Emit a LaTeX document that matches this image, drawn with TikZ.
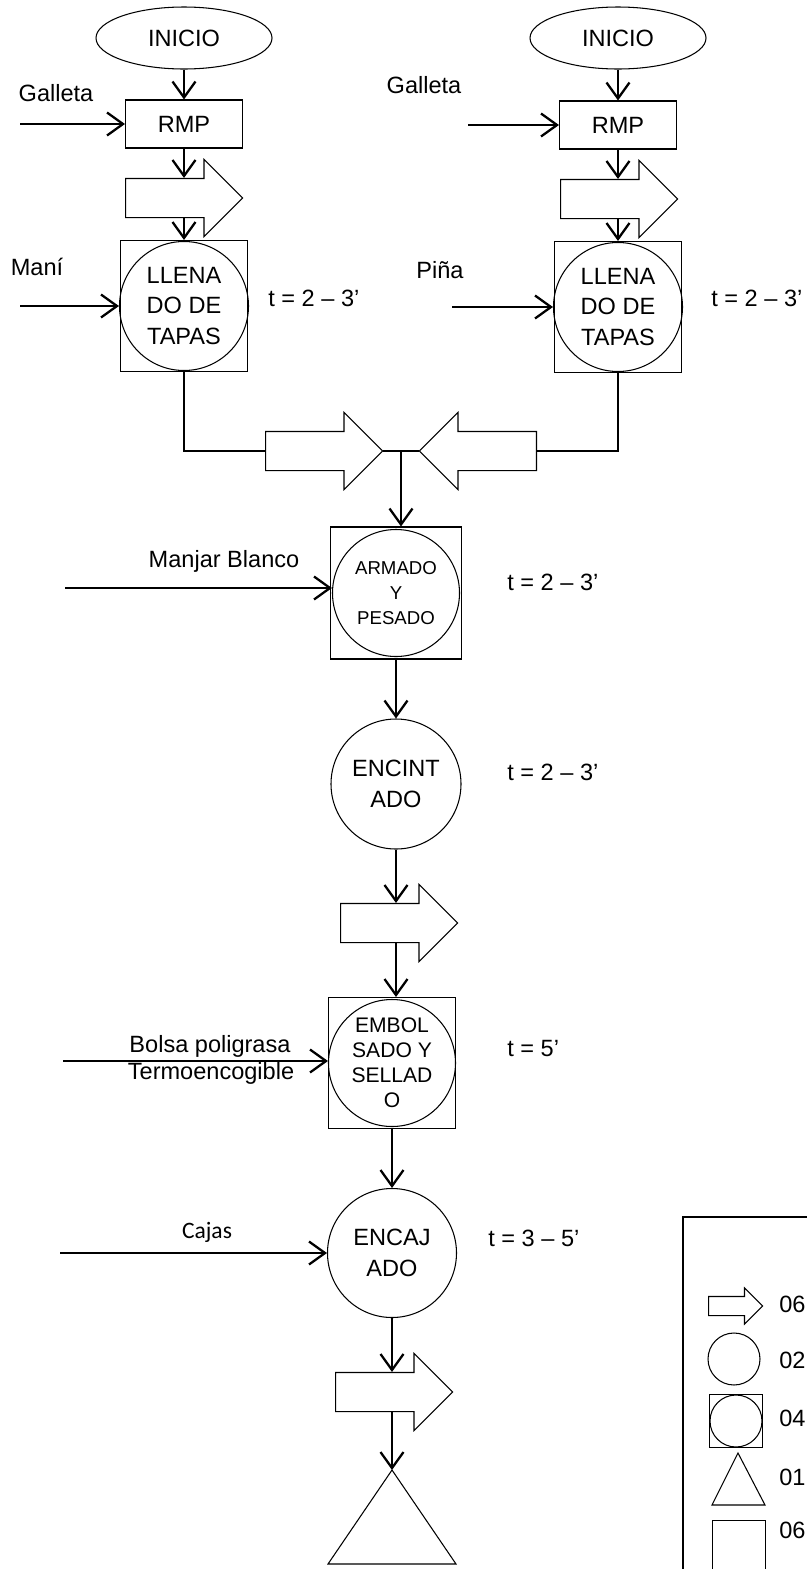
\documentclass[tikz,border=0pt]{standalone}
\usepackage{fontspec}
\setmainfont{Liberation Sans}
\newfontfamily\calibrifont{Carlito}
\usetikzlibrary{arrows.meta,shapes.geometric,shapes.arrows,calc}

\tikzset{
  lin/.style={line width=0.6pt},
  flow/.style={line width=1.3pt, -{Straight Barb[length=3.2mm,width=4.6mm]}},
  ini/.style={draw, lin, ellipse, minimum width=3.52cm, minimum height=1.24cm},
  rmp/.style={draw, lin, rectangle, minimum width=2.34cm, minimum height=0.96cm},
  sqbox/.style={draw, lin, rectangle, minimum width=2.54cm, minimum height=2.62cm},
  proc/.style={draw, lin, circle, minimum size=2.58cm, inner sep=0pt, align=center},
  flecha/.style={draw, lin, single arrow, anchor=tail, minimum height=2.34cm,
    inner xsep=0pt, inner ysep=3.8mm, single arrow head extend=3.8mm},
  lbl/.style={anchor=west, inner sep=0pt},
}

\begin{document}
\begin{tikzpicture}[x=0.2mm, y=-0.2mm, every node/.style={font=\fontsize{13.4}{17.6}\selectfont}]
	\useasboundingbox (0,0) rectangle (806,1569);

	% rama izquierda (galleta + mani)
	\node[ini] (iniL) at (184,38) {INICIO};
	\node[rmp] (rmpL) at (184,124) {RMP};
	\node[flecha] (trL) at (125,198) {};
	\node[sqbox] (llL) at (184,306) {};
	\node[proc] (llLc) at (llL) {LLENA\\DO DE\\TAPAS};
	\node (galL) at (56,93) {Galleta};
	\node (mani) at (37,267) {Maní};
	\node[lbl] (tL) at (268,298) {t = 2 – 3’};
	\coordinate (inGL) at (20,124);
	\coordinate (inM) at (20,306);
	\draw[flow] (iniL.south) -- (rmpL.north);
	\draw[flow] (rmpL.south) -- (rmpL.south |- trL.north);
	\draw[flow] (rmpL.south |- trL.south) -- (llL.north);
	\draw[flow] (inGL) -- (rmpL.west);
	\draw[flow] (inM) -- (llLc.west);

	% rama derecha (galleta + pina)
	\node[ini] (iniR) at (618,38) {INICIO};
	\node[rmp] (rmpR) at (618,125) {RMP};
	\node[flecha] (trR) at (560,199) {};
	\node[sqbox] (llR) at (618,307) {};
	\node[proc] (llRc) at (llR) {LLENA\\DO DE\\TAPAS};
	\node (galR) at (424,85) {Galleta};
	\node (pina) at (440,270) {Piña};
	\node[lbl] (tR) at (711,298) {t = 2 – 3’};
	\coordinate (inGR) at (468,125);
	\coordinate (inP) at (452,307);
	\draw[flow] (iniR.south) -- (rmpR.north);
	\draw[flow] (rmpR.south) -- (rmpR.south |- trR.north);
	\draw[flow] (rmpR.south |- trR.south) -- (llR.north);
	\draw[flow] (inGR) -- (rmpR.west);
	\draw[flow] (inP) -- (llRc.west);

	% union de ambas tapas
	\node[flecha] (trM1) at (265,451) {};
	\node[flecha, shape border rotate=180] (trM2) at (537,451) {};
	\draw[lin] (llL.south) |- (trM1.tail);
	\draw[lin] (llR.south) |- (trM2.tail);
	\draw[lin] (trM1.tip) -- (trM2.tip);
	\coordinate (jn) at ($(trM1.tip)!0.5!(trM2.tip)$);

	% armado
	\node[sqbox, minimum width=2.62cm, minimum height=2.64cm] (arm) at (396,593) {};
	\node[proc, minimum size=2.54cm, font=\fontsize{10.6}{14.2}\selectfont] (armc) at (arm) {ARMADO\\Y\\PESADO};
	\node (mbt) at (224,561) {Manjar Blanco};
	\node[lbl] (tA) at (507,582) {t = 2 – 3’};
	\coordinate (inMB) at (65,588);
	\draw[flow] (jn) -- (jn |- arm.north);
	\draw[flow] (inMB) -- (inMB -| armc.west);

	% encintado
	\node[proc, minimum size=2.6cm] (enc) at (396,784) {ENCINT\\ADO};
	\node[lbl] (tE) at (507,772) {t = 2 – 3’};
	\node[flecha] (tr5) at (340,923) {};
	\draw[flow] (arm.south) -- (enc.north);
	\draw[flow] (enc.south) -- (enc.south |- tr5.north);

	% embolsado
	\node[sqbox] (emb) at (392,1063) {};
	\node[proc, minimum size=2.54cm, font=\fontsize{12}{14.2}\selectfont] (embc) at (emb) {EMBOL\\SADO Y\\SELLAD\\O};
	\node (bolsa) at (210,1046) {Bolsa poligrasa};
	\node (termo) at (211,1073) {Termoencogible};
	\node[lbl] (tB) at (507,1049) {t = 5’};
	\coordinate (inB) at (63,1061);
	\draw[flow] (enc.south |- tr5.south) -- (enc.south |- emb.north);
	\draw[flow] (inB) -- (inB -| embc.west);

	% encajado
	\node[proc, minimum size=2.58cm] (caj) at (392,1253) {ENCAJ\\ADO};
	\node (cajas) at (207,1232) {\calibrifont Cajas};
	\node[lbl] (tC) at (488,1238) {t = 3 – 5’};
	\coordinate (inC) at (60,1253);
	\draw[flow] (emb.south) -- (caj.north);
	\draw[flow] (inC) -- (caj.west);

	% transporte y almacen
	\node[flecha] (tr6) at (335,1392) {};
	\coordinate (alm) at (392,1470);
	\draw[lin] (alm) -- ++(64,94) -- ++(-128,0) -- cycle;
	\draw[flow] (caj.south) -- (caj.south |- tr6.north);
	\draw[flow] (caj.south |- tr6.south) -- (alm);

	% leyenda
	\draw[lin] (683,1217) rectangle (880,1640);
	\node[flecha, minimum height=1.08cm, inner ysep=1.8mm, single arrow head extend=1.7mm] (lgA) at (708,1306) {};
	\node[lbl] at (779,1304) {06};
	\node[draw, lin, circle, minimum size=1.04cm, inner sep=0pt] (lgB) at (734,1359) {};
	\node[lbl] at (779,1360) {02};
	\node[draw, lin, minimum size=1.06cm, inner sep=0pt] (lgC) at (736,1421) {};
	\node[draw, lin, circle, minimum size=1.04cm, inner sep=0pt] at (lgC) {};
	\node[lbl] at (779,1418) {04};
	\coordinate (lgD) at (738,1453);
	\draw[lin] (lgD) -- ++(27,52) -- ++(-53,0) -- cycle;
	\node[lbl] at (779,1477) {01};
	\node[draw, lin, minimum size=1.06cm, inner sep=0pt] (lgE) at (739,1547) {};
	\node[lbl] at (779,1530) {06};
\end{tikzpicture}
\end{document}
